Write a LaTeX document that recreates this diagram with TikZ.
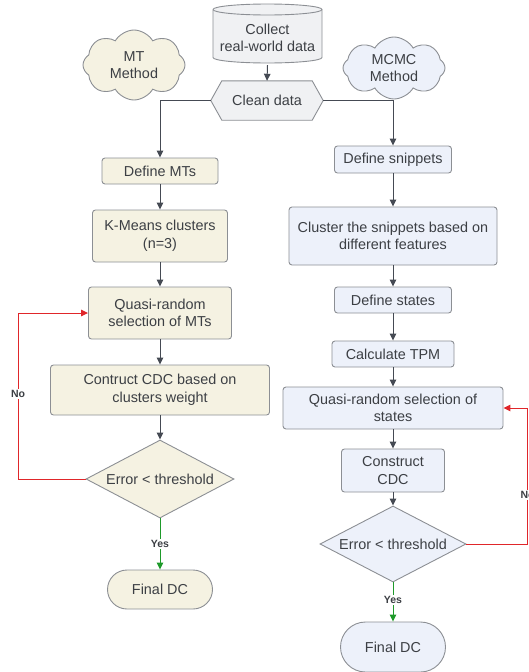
\documentclass[tikz,border=0pt]{standalone}
\usepackage{fontspec}
\setmainfont{Liberation Sans}
\usetikzlibrary{shapes.geometric,shapes.symbols,shapes.misc,arrows.meta,calc}
\definecolor{mtfill}{HTML}{F5F2E2}
\definecolor{mcfill}{HTML}{EDF1FA}
\definecolor{grayfill}{HTML}{F0F1F3}
\definecolor{border}{HTML}{8C8F94}
\definecolor{link}{HTML}{454A53}
\definecolor{txt}{HTML}{3C3F44}
\definecolor{noRed}{HTML}{E0262A}
\definecolor{yesGreen}{HTML}{1E9A2A}
\begin{document}
\begin{tikzpicture}[x=1pt,y=-1pt,
  every node/.style={font=\fontsize{14.4}{17.5}\selectfont, text=txt, align=center, inner sep=0pt},
  box/.style={draw=border, line width=0.9pt, rounded corners=3pt},
  mtbox/.style={box, fill=mtfill},
  mcbox/.style={box, fill=mcfill},
  decide/.style={diamond, draw=border, line width=0.9pt, aspect=1.9},
  endbox/.style={rounded rectangle, draw=border, line width=0.9pt},
  idea/.style={cloud, cloud puffs=8, cloud puff arc=120, aspect=1.45, draw=border, line width=0.9pt},
  flow/.style={draw=link, line width=1pt, -{Triangle[length=7pt,width=6.5pt]}},
  loopback/.style={draw=noRed, line width=1pt, -{Triangle[length=7pt,width=6.5pt]}},
  accept/.style={draw=yesGreen, line width=1pt, -{Triangle[length=7pt,width=6.5pt]}},
  tag/.style={font=\fontsize{10.5}{12}\selectfont\bfseries, text=txt, fill=white, inner sep=1.5pt}
]
\useasboundingbox (0,0) rectangle (528,672);
\clip (0,0) rectangle (528,672);

% ---- data source (cylinder) ----
\node[minimum width=109pt, minimum height=58pt] (collect) at (267.5,36) {};
\fill[grayfill] (213,9.5) -- (213,57.5) arc[start angle=180,end angle=360,x radius=54.5pt,y radius=5.5pt]
  -- (322,9.5) arc[start angle=0,end angle=180,x radius=54.5pt,y radius=5.5pt] -- cycle;
\draw[border, line width=0.9pt] (213,9.5) -- (213,57.5) arc[start angle=180,end angle=360,x radius=54.5pt,y radius=5.5pt]
  -- (322,9.5) arc[start angle=0,end angle=180,x radius=54.5pt,y radius=5.5pt];
\draw[border, line width=0.9pt] (213,9.5) arc[start angle=180,end angle=360,x radius=54.5pt,y radius=5.5pt];
\node at (267.5,38) {Collect\\real-world data};

% ---- cleaning step (hexagon) ----
\node[minimum width=112pt, minimum height=39pt] (clean) at (267,100.5) {};
\draw[border, line width=0.9pt, fill=grayfill]
  (clean.west) -- ($(clean.north west)+(11pt,0pt)$) -- ($(clean.north east)+(-11pt,0pt)$)
  -- (clean.east) -- ($(clean.south east)+(-11pt,0pt)$) -- ($(clean.south west)+(11pt,0pt)$) -- cycle;
\node at (clean) {Clean data};

% ---- method labels ----
\node[idea, fill=mtfill, minimum width=102pt, minimum height=70pt] (mtlabel) at (134,65) {MT\\Method};
\node[idea, fill=mcfill, minimum width=102pt, minimum height=62pt] (mclabel) at (394,68) {MCMC\\Method};

% ---- MT method column ----
\node[mtbox, minimum width=116pt, minimum height=26pt] (defmt) at (160,171) {Define MTs};
\node[mtbox, minimum width=135pt, minimum height=52pt] (kmeans) at (160,236) {K-Means clusters\\(n=3)};
\node[mtbox, minimum width=143pt, minimum height=52pt] (quasiL) at (160,313) {Quasi-random\\selection of MTs};
\node[mtbox, minimum width=219pt, minimum height=50pt] (cdcL) at (160,390) {Contruct CDC based on\\clusters weight};
\node[decide, fill=mtfill, minimum width=148pt, minimum height=78pt] (diamL) at (160,479) {Error < threshold};
\node[endbox, fill=mtfill, minimum width=105pt, minimum height=39pt] (finalL) at (160,589.5) {Final DC};

% ---- MCMC method column ----
\node[mcbox, minimum width=117pt, minimum height=27pt] (defsnip) at (393,159.5) {Define snippets};
\node[mcbox, minimum width=208pt, minimum height=58pt] (clustr) at (393,236) {Cluster the snippets based on\\different features};
\node[mcbox, minimum width=117pt, minimum height=26pt] (defstate) at (393,300) {Define states};
\node[mcbox, minimum width=122pt, minimum height=26pt] (tpm) at (393,354) {Calculate TPM};
\node[mcbox, minimum width=220pt, minimum height=42pt] (quasiR) at (393,408) {Quasi-random selection of\\states};
\node[mcbox, minimum width=103pt, minimum height=43pt] (cdcR) at (393,470.5) {Construct\\CDC};
\node[decide, fill=mcfill, minimum width=146pt, minimum height=76pt] (diamR) at (393,544) {Error < threshold};
\node[endbox, fill=mcfill, minimum width=105pt, minimum height=50pt] (finalR) at (393,647) {Final DC};

% ---- connectors ----
\draw[flow] (collect.south) -- (clean.north);
\draw[flow] (clean.west) -| (defmt.north);
\draw[flow] (clean.east) -| (defsnip.north);

\draw[flow] (defmt) -- (kmeans);
\draw[flow] (kmeans) -- (quasiL);
\draw[flow] (quasiL) -- (cdcL);
\draw[flow] (cdcL) -- (diamL);
\draw[accept] (diamL.south) -- node[tag] {Yes} (finalL.north);
\coordinate (loopL) at (18,479);
\draw[loopback] (diamL.west) -- (loopL) |- node[tag, pos=0.256] {No} (quasiL.west);

\draw[flow] (defsnip) -- (clustr);
\draw[flow] (clustr) -- (defstate);
\draw[flow] (defstate) -- (tpm);
\draw[flow] (tpm) -- (quasiR);
\draw[flow] (quasiR) -- (cdcR);
\draw[flow] (cdcR) -- (diamR);
\draw[accept] (diamR.south) -- node[tag, pos=0.45] {Yes} (finalR.north);
\coordinate (loopR) at (527.5,544);
\draw[loopback] (diamR.east) -- (loopR) |- node[tag, pos=0.18] {No} (quasiR.east);
\end{tikzpicture}
\end{document}
